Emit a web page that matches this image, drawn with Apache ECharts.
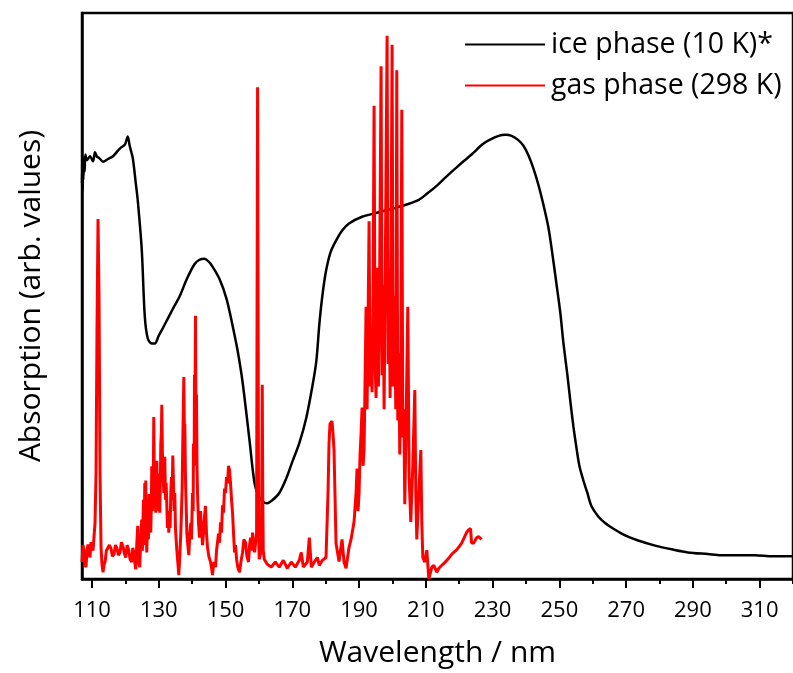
<!DOCTYPE html>
<html>
<head>
<meta charset="utf-8">
<script src="https://cdn.jsdelivr.net/npm/echarts@6/dist/echarts.min.js"></script>
<style>
  html, body { margin: 0; padding: 0; background: #fff; }
  #chart { width: 793px; height: 673px; }
</style>
</head>
<body>
<div id="chart"></div>
<script>
// Solid (ice, 10 K) absorption spectrum: wavelength in nm, absorption in arbitrary units
const iceNm = [107.0,107.1,107.2,107.3,107.4,107.6,107.8,108.0,108.5,109.4,110.3,110.9,111.5,112.1,113.3,114.8,116.3,118.4,119.9,120.7,121.3,122.2,123.1,123.7,124.9,125.8,126.7,127.9,128.8,130.0,131.2,132.7,134.2,136.3,138.4,140.7,142.2,143.7,144.9,146.1,148.2,150.3,152.1,153.6,155.1,157.2,158.7,160.1,161.3,162.5,164.0,166.1,168.2,170.0,172.1,174.2,176.0,177.2,178.1,179.0,180.1,181.5,183.1,185.0,187.0,190.9,196.0,202.8,207.9,210.6,213.5,216.0,219.0,221.3,223.7,227.0,228.8,231.8,233.9,235.7,237.8,239.3,240.7,242.2,243.7,245.2,246.7,247.9,249.1,250.3,251.2,252.4,253.3,254.2,255.1,256.0,257.2,258.4,259.6,261.6,263.7,266.7,269.7,273.6,278.7,284.0,288.5,294.5,298.4,303.4,308.5,313.9,318.4,320.0];
const iceAbs = [69.9,74.0,68.5,73.5,70.5,74.5,72.0,75.0,74.0,74.7,73.8,75.4,74.6,74.4,73.7,74.2,74.7,76.1,76.8,78.2,76.5,74.4,70.0,66.9,58.2,46.5,42.5,41.6,41.6,43.0,44.3,46.0,47.7,50.0,53.0,55.6,56.4,56.6,56.1,55.2,53.0,49.5,44.8,40.4,34.8,24.4,16.9,14.5,13.6,13.4,13.9,15.2,17.8,20.7,24.0,28.5,34.0,38.5,45.0,50.0,54.4,57.8,59.8,61.6,62.8,64.0,64.8,65.9,67.0,68.2,69.6,71.0,72.6,73.8,75.0,76.8,77.5,78.3,78.5,78.3,77.5,76.5,74.9,72.6,69.7,66.2,62.2,57.5,52.3,47.0,41.8,36.1,31.4,27.0,23.3,20.0,17.4,15.2,12.9,11.1,9.9,8.7,7.7,6.8,5.9,5.2,4.7,4.4,4.2,4.2,4.2,4.0,4.0,4.0];

// Gas phase (298 K) absorption spectrum, listed region by region (line n of gasNm pairs with line n of gasAbs)
const gasNm = [
  107.0,107.3,107.6,107.9,108.2,108.5,108.8,109.1,109.4,109.7,110.0,110.3,110.6,110.9,111.2,111.5,111.8,112.1,112.4,112.7,
  113.0,113.3,113.6,113.9,114.3,114.8,115.2,115.7,116.1,116.6,117.0,117.5,117.9,118.4,118.8,119.3,119.7,120.1,120.5,121.0,121.4,121.9,122.2,122.5,122.8,
  123.1,123.4,123.7,124.0,124.3,124.6,124.9,125.1,125.2,125.4,125.6,125.8,126.0,126.1,126.3,126.4,126.6,126.7,126.9,127.1,127.3,127.5,127.6,127.8,127.9,128.1,128.2,128.4,128.5,128.7,128.8,129.0,129.1,129.3,129.4,129.6,129.7,129.9,130.1,130.3,130.5,130.6,130.8,130.9,131.1,131.2,131.4,131.5,131.7,131.8,132.0,132.2,132.4,132.6,132.8,133.0,133.2,133.4,133.6,133.8,134.0,134.2,134.4,134.6,134.8,135.0,135.2,135.4,135.7,
  136.0,136.3,136.6,136.8,137.0,137.2,137.5,137.7,137.8,138.0,138.1,138.3,138.4,138.7,139.0,139.3,139.6,139.8,140.1,140.3,140.4,140.6,140.7,140.85,141.0,141.15,141.3,141.45,141.6,141.9,142.2,142.5,142.8,143.1,143.4,143.7,144.0,144.3,144.6,145.0,145.5,145.8,146.1,146.5,147.0,147.3,147.6,147.9,148.2,148.5,148.8,149.1,149.4,149.7,150.0,150.3,150.6,150.9,151.2,151.5,151.8,152.1,152.4,152.7,153.0,153.3,153.7,154.2,154.6,155.1,155.5,156.0,156.4,156.9,157.2,157.5,157.8,158.1,158.4,158.7,
  159.3,159.45,159.6,159.75,159.9,160.1,160.7,160.85,161.0,161.15,161.3,161.6,162.5,163.7,164.9,166.1,167.3,168.5,169.7,170.9,172.1,172.7,173.3,174.5,175.1,175.7,176.9,177.5,178.1,179.0,180.1,180.7,181.0,181.3,181.9,182.2,182.5,183.1,184.0,184.9,185.5,186.1,187.0,187.6,188.5,
  189.1,189.4,189.7,190.0,190.3,190.6,190.9,191.2,191.5,191.8,192.1,192.4,192.7,193.0,193.3,193.6,193.9,194.2,194.5,194.8,195.1,195.5,195.8,196.1,196.6,196.9,197.2,197.5,197.9,198.4,198.7,199.0,199.3,199.6,199.9,200.2,200.6,201.0,201.3,201.6,201.9,202.2,202.5,202.8,203.1,203.4,203.7,204.1,204.6,205.0,205.5,206.1,206.7,207.0,207.3,207.9,208.5,208.8,209.1,
  209.7,210.3,210.9,211.8,212.4,213.3,213.9,215.1,216.0,216.9,217.8,219.3,220.7,222.2,222.8,223.4,223.7,224.3,225.2,225.8,226.7
];
const gasAbs = [
  3.0,6.0,5.1,2.5,2.1,5.0,6.1,4.5,3.8,6.5,6.8,5.0,4.7,9.9,18.6,44.8,63.6,50.0,18.6,5.6,
  2.5,1.2,2.5,3.0,5.0,4.7,6.0,5.4,4.0,4.4,6.0,5.4,4.2,4.7,6.5,5.7,4.5,3.8,6.0,5.1,3.5,3.0,5.5,4.7,3.0,
  1.7,6,9.4,3,2.1,7,10.5,5,8.2,14,6,16.9,9,17.4,8,4.7,10,12.5,7,15,13.9,9,8.2,14,19.9,12,15.2,20,28.6,16,18.6,13,11.7,17,20.9,15,18.6,12,16,11.7,18,23.9,26,30.8,22,20.4,17,15.2,19,21.6,14,17,13.4,9,12,8.2,11,9,15.2,18,14,21.8,17,12,15.2,9,7,5.2,3,
  0.7,4,8.2,12,16,24.4,35.7,25,27.4,18,15.2,11,8.2,6,4.2,8,9.9,7,15.2,12,23.9,20,36.1,30,46.5,28,32.6,20,15.2,10,7.3,12,11.7,6,8.2,11,12.9,8,5.6,4,3.0,2,0.7,3,2.1,5,4.7,8,6.4,10,8.2,13,11.7,16,15.2,18,16.9,20,19.2,16.9,14,11.7,8,4.7,6,3.5,2,1.2,3,4.7,7,6.4,4,3.0,6,7.3,5,8.2,6,4.7,
  8,50,86.9,50,8,3.5,5,15,34.3,15,5,3.5,2.6,2.1,3.0,2.1,3.3,1.9,3.0,2.1,3.3,4.7,2.1,3.0,7.3,2.1,3.3,3.8,2.4,3.3,3.8,15.2,24.0,27.4,27.9,25.6,22.8,6.3,3.1,7.0,3.0,1.9,5.6,7.0,10.1,
  15.2,19.5,12.0,15.2,22.0,25.6,30.3,20.0,22.8,35.0,48.1,30.0,45.0,63.2,34.0,41.8,33.0,50.0,83.6,38.0,32.0,55.0,34.0,48.0,90.6,36.0,52.0,30.0,58.0,96.0,38.0,55.0,32.0,60.0,94.4,34.0,50.0,30.0,89.9,28.0,40.0,22.0,35.0,82.9,25.0,30.0,13.2,28.0,48.1,18.0,10.1,20.0,33.4,15.0,7.0,15.2,22.8,10.0,3.8,
  3.0,5.1,0.0,2.1,2.4,1.2,1.9,2.6,3.1,3.7,4.4,5.2,6.3,8.2,8.7,8.9,6.4,6.3,7.3,7.5,7.0
];

// Axis tick values
const majorTicks = [110, 130, 150, 170, 190, 210, 230, 250, 270, 290, 310];
const minorTicks = [120, 140, 160, 180, 200, 220, 240, 260, 280, 300, 320];

const seriesNames = ['ice phase (10 K)*', 'gas phase (298 K)'];

const zip = (xs, ys) => xs.map((x, i) => [x, ys[i]]);

const FONT = 'Open Sans';
const X_MIN = 107, X_MAX = 320;

const chart = echarts.init(document.getElementById('chart'), null, { renderer: 'canvas' });

const axisBase = {
  type: 'value', min: X_MIN, max: X_MAX, gridIndex: 0,
  splitLine: { show: false }
};

chart.setOption({
  animation: false,
  backgroundColor: '#fff',
  grid: {
    left: 82, top: 13, width: 713.5, height: 574,
    show: true, borderColor: '#000', borderWidth: 2.5, backgroundColor: 'transparent'
  },
  legend: {
    orient: 'vertical',
    left: 460, top: 25,
    icon: 'rect',
    itemWidth: 80, itemHeight: 2, itemGap: 12,
    textStyle: { fontFamily: FONT, fontSize: 28.5, color: '#000', padding: [0, 0, 0, 1] },
    data: seriesNames
  },
  xAxis: [
    Object.assign({}, axisBase, {
      position: 'bottom',
      name: 'Wavelength / nm',
      nameLocation: 'middle',
      nameGap: 59,
      nameTextStyle: { fontFamily: FONT, fontSize: 30, color: '#000' },
      axisLine: { show: true, onZero: false, lineStyle: { color: '#000', width: 2.5 } },
      axisTick: { show: true, customValues: majorTicks, length: 9, lineStyle: { color: '#000', width: 2 } },
      axisLabel: { show: true, customValues: majorTicks, margin: 21, fontFamily: FONT, fontSize: 22, color: '#000' }
    }),
    Object.assign({}, axisBase, {
      position: 'bottom',
      axisLine: { show: false, onZero: false },
      axisTick: { show: true, customValues: minorTicks, length: 5, lineStyle: { color: '#000', width: 2 } },
      axisLabel: { show: false }
    })
  ],
  yAxis: {
    type: 'value', min: 0, max: 100,
    name: 'Absorption (arb. values)',
    nameLocation: 'middle',
    nameGap: 36,
    nameTextStyle: { fontFamily: FONT, fontSize: 30, color: '#000' },
    axisLine: { show: true, lineStyle: { color: '#000', width: 2.5 } },
    axisTick: { show: false },
    axisLabel: { show: false },
    splitLine: { show: false }
  },
  series: [
    {
      name: seriesNames[0], type: 'line', xAxisIndex: 0,
      data: zip(iceNm, iceAbs),
      symbol: 'none', smooth: 0.3,
      lineStyle: { color: '#000', width: 2.5 },
      itemStyle: { color: '#000' },
      z: 2
    },
    {
      name: seriesNames[1], type: 'line', xAxisIndex: 0,
      data: zip(gasNm, gasAbs),
      symbol: 'none', smooth: false,
      lineStyle: { color: '#f00', width: 3 },
      itemStyle: { color: '#f00' },
      z: 3
    }
  ]
});
</script>
</body>
</html>
